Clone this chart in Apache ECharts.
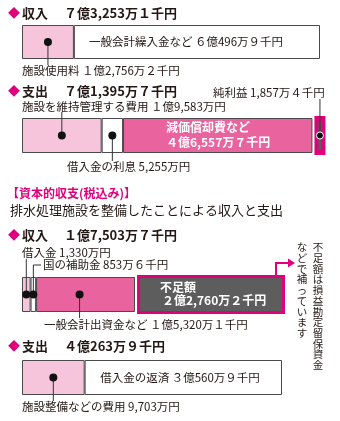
<!DOCTYPE html>
<html>
<head>
<meta charset="UTF-8">
<title>収支</title>
<script src="https://cdn.jsdelivr.net/npm/echarts@6/dist/echarts.min.js"></script>
<style>
    html, body { margin: 0; padding: 0; background: #fff; }
    #main { width: 340px; height: 421px; }
</style>
</head>
<body>
<div id="main"></div>
<script>
// 単位：万円
var rev1Names = ['施設使用料', '一般会計繰入金など'];
var rev1Values = [12756.2, 60496.9];
var exp1Names = ['施設を維持管理する費用', '借入金の利息', '減価償却費など'];
var exp1Values = [19583, 5255, 46557.7];
var netProfit = 1857.4;
var rev2Names = ['借入金', '国の補助金', '一般会計出資金など'];
var rev2Values = [1330, 853.6, 15320.1];
var shortfall = 22760.2;
var exp2Names = ['施設整備などの費用', '借入金の返済'];
var exp2Values = [9703, 30560.9];

var LIGHT = '#f6c5dc', HOT = '#e9639e', MAG = '#e0007b', GRAY = '#5d5d5d', INK = '#231815';
var FONT = '"Noto Sans CJK JP", "Noto Sans", sans-serif';

function sum(a) { return a.reduce(function (s, v) { return s + v; }, 0); }
function mid(values, i) { return sum(values.slice(0, i)) + values[i] / 2; }

var chart = echarts.init(document.getElementById('main'));

function stackSeries(names, values, colors, idx) {
    return values.map(function (v, i) {
        return {
            name: names[i], type: 'bar', xAxisIndex: idx, yAxisIndex: idx,
            stack: 's' + idx, barWidth: '100%', data: [v], silent: true,
            itemStyle: { color: colors[i], borderColor: '#4a4a4a', borderWidth: 1 }
        };
    });
}

// 純利益・不足額の枠（マゼンタ枠＋グレー）
function boxSeries(name, start, value, idx, inset, withDot) {
    return {
        name: name, type: 'custom', xAxisIndex: idx, yAxisIndex: idx, clip: false, silent: true,
        encode: { x: 0, y: 1 },
        data: [[start, 0, value]],
        renderItem: function (params, api) {
            var s = api.value(0), v = api.value(2);
            var p0 = api.coord([s, 0]), p1 = api.coord([s + v, 0]);
            var h = api.size([0, 1])[1];
            var x0 = p0[0] + 2, x1 = Math.max(p1[0] + 3, x0 + 11);
            var y0 = p0[1] - h / 2 - 2, y1 = p0[1] + h / 2 + 2;
            var kids = [
                { type: 'rect', shape: { x: x0, y: y0, width: x1 - x0, height: y1 - y0 }, style: { fill: MAG } },
                { type: 'rect', shape: { x: x0 + inset[0], y: y0 + inset[1], width: x1 - x0 - 2 * inset[0], height: y1 - y0 - 2 * inset[1] }, style: { fill: GRAY } }
            ];
            if (withDot) {
                var cx = (x0 + x1) / 2;
                kids.push({ type: 'line', shape: { x1: cx, y1: p0[1], x2: cx, y2: y0 - 17 }, style: { stroke: '#333', lineWidth: 1 } });
                kids.push({ type: 'circle', shape: { cx: cx, cy: p0[1], r: 3.5 }, style: { fill: '#111', stroke: '#fff', lineWidth: 1 } });
            }
            return { type: 'group', children: kids };
        }
    };
}

var grids = [
    { left: 22, width: 298, top: 25, height: 34 },
    { left: 22, width: 298, top: 118, height: 35 },
    { left: 22, width: 260, top: 277, height: 35 },
    { left: 22, width: 260, top: 360, height: 35 }
];
var maxes = [sum(rev1Values), sum(rev1Values), sum(exp2Values), sum(exp2Values)];

var option = {
    animation: false,
    grid: grids,
    xAxis: maxes.map(function (m, i) { return { gridIndex: i, type: 'value', min: 0, max: m, show: false }; }),
    yAxis: maxes.map(function (m, i) { return { gridIndex: i, type: 'category', data: ['a'], show: false }; }),
    series: [].concat(
        stackSeries(rev1Names, rev1Values, [LIGHT, '#fff'], 0),
        stackSeries(exp1Names, exp1Values, [LIGHT, '#fff', HOT], 1),
        [boxSeries('純利益', sum(exp1Values), netProfit, 1, [4, 5], true)],
        stackSeries(rev2Names, rev2Values, [LIGHT, '#fff', HOT], 2),
        [boxSeries('不足額', sum(rev2Values), shortfall, 2, [3, 3], false)],
        stackSeries(exp2Names, exp2Values, [LIGHT, '#fff'], 3)
    )
};
chart.setOption(option);

function px(g, v) { return chart.convertToPixel({ gridIndex: g }, [v, 0]); }
function txt(x, y, s, o) {
    o = o || {};
    return {
        type: 'text', x: x, y: y, z: 100, silent: true,
        style: {
            text: s, fill: o.fill || INK, fontSize: o.size || 11.5, fontWeight: o.bold ? 'bold' : 'normal',
            fontFamily: FONT, align: o.align || 'left', verticalAlign: 'middle'
        }
    };
}
function title(y, head, value) {
    return [
        txt(8, y, '◆', { fill: MAG, size: 12 }),
        txt(22, y, head, { bold: true, size: 13 }),
        txt(64, y, value, { bold: true, size: 13 })
    ];
}
function dot(p) { return { type: 'circle', z: 101, shape: { cx: p[0], cy: p[1], r: 4 }, style: { fill: '#111' } }; }
function lead(pts) { return { type: 'polyline', z: 100, shape: { points: pts }, style: { stroke: '#333', lineWidth: 1 } }; }

var g = [];
// 収益的収支 収入
g = g.concat(title(13, '収入', '７億3,253万１千円'));
var d = px(0, mid(rev1Values, 0));
g.push(lead([d, [d[0], 65]]), dot(d));
g.push(txt(22, 71, '施設使用料 １億2,756万２千円'));
g.push(txt(186, 42, '一般会計繰入金など ６億496万９千円', { align: 'center' }));

// 支出
g = g.concat(title(91, '支出', '７億1,395万７千円'));
g.push(txt(213, 93, '純利益 1,857万４千円'));
g.push(txt(22, 107, '施設を維持管理する費用 １億9,583万円'));
d = px(1, mid(exp1Values, 0));
g.push(lead([d, [d[0], 112]]), dot(d));
d = px(1, mid(exp1Values, 1));
g.push(lead([d, [d[0], 161]]), dot(d));
g.push(txt(67, 167, '借入金の利息 5,255万円'));
g.push(txt(166, 127, '減価償却費など', { fill: '#fff', bold: true, size: 12 }));
g.push(txt(166, 142, '４億6,557万７千円', { fill: '#fff', bold: true, size: 12 }));

// 資本的収支
g.push(txt(7, 193, '【資本的収支(税込み)】', { fill: MAG, bold: true, size: 12 }));
g.push(txt(10, 210, '排水処理施設を整備したことによる収入と支出', { size: 13 }));

g = g.concat(title(235, '収入', '１億7,503万７千円'));
g.push(txt(22, 253, '借入金 1,330万円'));
g.push(txt(43, 265, '国の補助金 853万６千円'));
d = px(2, mid(rev2Values, 0));
g.push(lead([d, [d[0], 259]]));
var d2 = px(2, mid(rev2Values, 1));
g.push(lead([d2, [d2[0], 265], [41, 265]]));
g.push(dot(d), dot(d2));
d = px(2, mid(rev2Values, 2));
d[0] -= 6;
g.push(lead([d, [d[0], 318]]), dot(d));
g.push(txt(44, 325, '一般会計出資金など １億5,320万１千円'));
g.push(txt(160, 287, '不足額', { fill: '#fff', bold: true, size: 12 }));
g.push(txt(162, 300, '２億2,760万２千円', { fill: '#fff', bold: true, size: 12 }));
// 矢印
g.push({ type: 'polyline', z: 100, shape: { points: [[276, 275], [276, 263], [289, 263]] }, style: { stroke: MAG, lineWidth: 2 } });
g.push({ type: 'polygon', z: 100, shape: { points: [[288, 258.5], [295, 263], [288, 267.5]] }, style: { fill: MAG } });
// 縦書き注記
var note1 = '不足額は損益勘定留保資金', note2 = 'などで補っています';
g.push({ type: 'text', x: 318, y: 242, z: 100, silent: true, style: { text: note1.split('').join('\n'), fill: INK, fontSize: 10.5, fontFamily: FONT, align: 'center', verticalAlign: 'top', lineHeight: 10.7 } });
g.push({ type: 'text', x: 302, y: 242, z: 100, silent: true, style: { text: note2.split('').join('\n'), fill: INK, fontSize: 10.5, fontFamily: FONT, align: 'center', verticalAlign: 'top', lineHeight: 10.7 } });

// 支出
g = g.concat(title(346, '支出', '４億263万９千円'));
d = px(3, mid(exp2Values, 0));
g.push(lead([d, [d[0], 401]]), dot(d));
g.push(txt(22, 407, '施設整備などの費用 9,703万円'));
g.push(txt(180, 378, '借入金の返済 ３億560万９千円', { align: 'center' }));

chart.setOption({ graphic: { elements: g } });
</script>
</body>
</html>
